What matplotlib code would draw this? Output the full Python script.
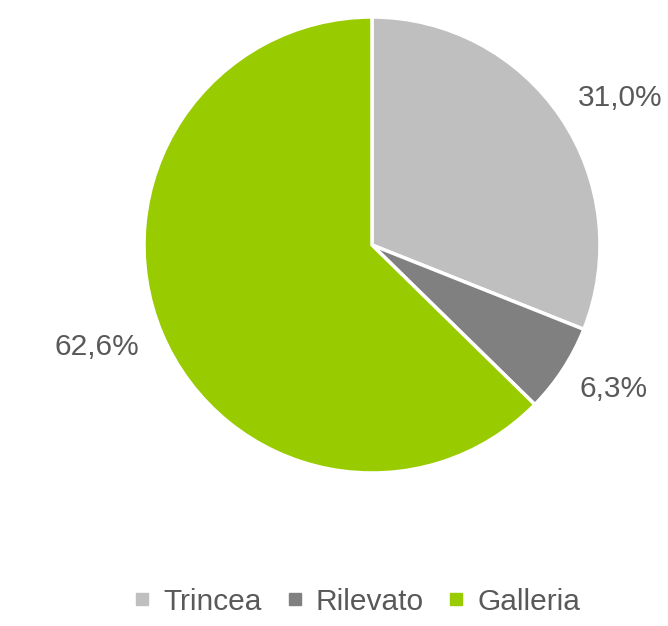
import matplotlib.pyplot as plt
from matplotlib.lines import Line2D

categories = ["Trincea", "Rilevato", "Galleria"]
shares = [31.0, 6.3, 62.6]
pct_labels = ["31,0%", "6,3%", "62,6%"]
colors = ["#BFBFBF", "#808080", "#99CC00"]

# label anchor points (in units of the pie radius), as placed in the original
label_xy = [(1.088, 0.645), (1.061, -0.632), (-1.206, -0.447)]

plt.rcParams["font.family"] = ["Liberation Sans", "DejaVu Sans"]
text_color = "#595959"

fig = plt.figure(figsize=(6.68, 6.26), dpi=100)
ax = fig.add_axes([144 / 668, 153 / 626, 456 / 668, 456 / 626])

wedges, texts = ax.pie(
    shares,
    labels=pct_labels,
    colors=colors,
    startangle=90,
    counterclock=False,
    radius=1.0,
    wedgeprops={"edgecolor": "white", "linewidth": 2.5},
    textprops={"fontsize": 21.5, "color": text_color},
)
for t, (x, y) in zip(texts, label_xy):
    t.set_position((x, y))
    t.set_ha("center")
    t.set_va("center")

ax.set_xlim(-1, 1)
ax.set_ylim(-1, 1)
ax.set_aspect("equal")

handles = [
    Line2D([], [], marker="s", linestyle="", markersize=9, color=c) for c in colors
]
fig.legend(
    handles,
    categories,
    loc="center",
    bbox_to_anchor=(0.532, 0.039),
    ncol=3,
    frameon=False,
    fontsize=21.5,
    labelcolor=text_color,
    handletextpad=0.3,
    columnspacing=0.7,
    handlelength=0.8,
)

fig.savefig("out.png", dpi=100)
